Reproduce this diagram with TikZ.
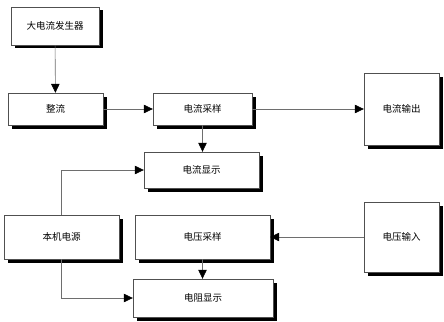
\documentclass[tikz,border=0pt]{standalone}
\usepackage{fontspec}
\setmainfont{Noto Sans CJK SC}
\usetikzlibrary{positioning,arrows.meta,shadows}
\definecolor{xianHui}{HTML}{6E6E6E}
\definecolor{kuangHui}{HTML}{505050}
\tikzset{
  kuang/.style={rectangle, draw=kuangHui, thin, fill=white, inner sep=0pt,
    drop shadow={shadow xshift=3.5pt, shadow yshift=-3.5pt, fill=black, opacity=1},
    align=center, font=\fontsize{9.5}{11}\selectfont},
  jiantou/.style={-{Triangle[length=9pt,width=8.5pt,black]}, xianHui, semithick},
}
\begin{document}
\begin{tikzpicture}[x=1pt,y=-1pt]
    \useasboundingbox (0,0) rectangle (444,321);
    \node[kuang, minimum width=88pt, minimum height=38pt]  (fsq)  at (55,26)    {大电流发生器};
    \node[kuang, minimum width=95pt, minimum height=32pt]  (zl)   at (55.5,109) {整流};
    \node[kuang, minimum width=99pt, minimum height=32pt]  (dlcy) at (202.5,109) {电流采样};
    \node[kuang, minimum width=75pt, minimum height=72pt]  (dlsc) at (401.5,109) {电流输出};
    \node[kuang, minimum width=115pt, minimum height=36pt] (dlxs) at (201.5,170) {电流显示};
    \node[kuang, minimum width=115pt, minimum height=44pt] (bjdy) at (61.5,237) {本机电源};
    \node[kuang, minimum width=135pt, minimum height=44pt] (dycy) at (202.5,237) {电压采样};
    \node[kuang, minimum width=75pt, minimum height=70pt]  (dysr) at (401.5,237) {电压输入};
    \node[kuang, minimum width=140pt, minimum height=38pt] (dzxs) at (203,298)  {电阻显示};

    \draw[jiantou] (fsq) -- (zl);
    \draw[jiantou] (zl) -- (dlcy);
    \draw[jiantou] (dlcy) -- (dlsc);
    \draw[jiantou] (dlcy.south) -- (dlcy.south |- dlxs.north);
    \draw[jiantou] (bjdy.north) |- (dlxs.west);
    \draw[jiantou] (bjdy.south) |- (dzxs.west);
    \draw[jiantou] (dysr) -- (dycy);
    \draw[jiantou] (dycy.south) -- (dycy.south |- dzxs.north);
\end{tikzpicture}
\end{document}
